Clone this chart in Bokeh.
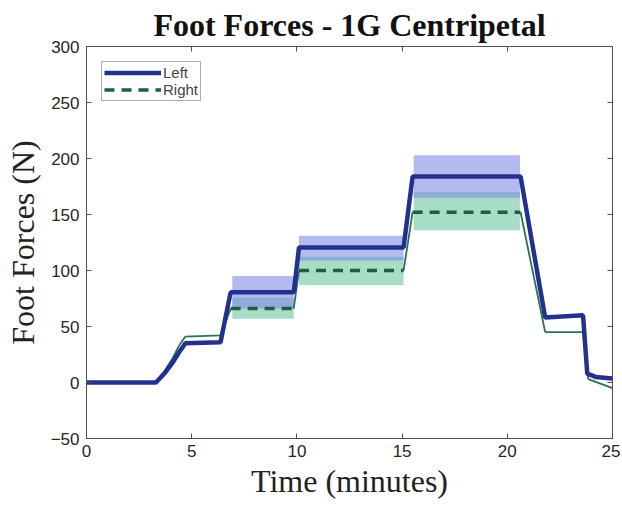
import numpy as np
from bokeh.plotting import figure
from bokeh.models import LinearAxis, Legend, LegendItem, Range1d, FixedTicker
from bokeh.embed import file_html
from bokeh.resources import INLINE

# ---- data ----
time_left = [0, 3.3, 3.7, 4.1, 4.4, 4.7, 6.37, 6.85, 9.85, 10.1, 15.07, 15.5, 20.63, 21.8, 23.6, 23.8, 24.2, 25]
left = [0, 0, 8, 18, 27, 35, 36, 80.5, 80.5, 120.5, 120.5, 184, 184, 58, 60, 8, 5, 3.5]

time_right = [0, 3.3, 3.7, 4.1, 4.4, 4.7, 6.37, 6.85, 9.85, 10.1, 15.07, 15.5, 20.63, 21.8, 23.6, 23.85, 25]
right = [0, 0, 10, 22, 33, 41, 42, 66, 66, 100, 100, 152, 152, 45, 45, 3, -5]
right_plateaus = [(7, 8), (9, 10), (11, 12)]  # index pairs drawn dashed

band_start = [6.93, 10.1, 15.55]
band_end = [9.85, 15.07, 20.6]
left_lo = [66, 109, 165]
left_hi = [95, 131, 203]
right_lo = [57, 87, 136]
right_hi = [76, 112, 170]

x_ticks = [0, 5, 10, 15, 20, 25]
y_ticks = [-50, 0, 50, 100, 150, 200, 250, 300]

AX = "#505050"

# ---- figure ----
p = figure(frame_width=526, frame_height=392, output_backend="svg", toolbar_location=None,
           x_range=Range1d(0, 25), y_range=Range1d(-50, 300),
           min_border_left=86, min_border_right=8, min_border_top=46, min_border_bottom=0,
           title="Foot Forces - 1G Centripetal")
p.title.align = "center"
p.title.vertical_align = "top"
p.title.text_font = "Liberation Serif"
p.title.text_font_size = "32px"
p.title.text_font_style = "bold"
p.title.text_color = "#111111"
p.title.standoff = 4
p.title.offset = 0
p.xgrid.visible = False
p.ygrid.visible = False
p.background_fill_color = "white"
p.border_fill_color = "white"
p.outline_line_color = AX

# bands
p.quad(left=band_start, right=band_end, bottom=right_lo, top=right_hi,
       fill_color="#6cc4a0", fill_alpha=0.6, line_alpha=0)
p.quad(left=band_start, right=band_end, bottom=left_lo, top=left_hi,
       fill_color="#7f8ce6", fill_alpha=0.6, line_alpha=0)

# right: solid thin transitions, dashed plateaus
solid_x, solid_y, dash_x, dash_y = [], [], [], []
plateau_idx = set(i for a, b in right_plateaus for i in range(a, b))
for i in range(len(time_right) - 1):
    xs = [time_right[i], time_right[i + 1], np.nan]
    ys = [right[i], right[i + 1], np.nan]
    if i in plateau_idx:
        dash_x += xs
        dash_y += ys
    else:
        solid_x += xs
        solid_y += ys

r_right_solid = p.line(solid_x, solid_y, line_color="#2a7350", line_width=1.8)
r_left = p.line(time_left, left, line_color="#24308f", line_width=4.5)
r_right = p.line(dash_x, dash_y, line_color="#1f5e3f", line_width=3.5, line_dash="10 7")

legend = Legend(items=[LegendItem(label="Left", renderers=[r_left]),
                       LegendItem(label="Right", renderers=[r_right])],
                location="top_left", margin=15, padding=2, spacing=0,
                glyph_width=57, glyph_height=13, label_standoff=2,
                label_text_font="Liberation Sans", label_text_font_size="15px",
                label_height=13, border_line_color="#5a5a70", border_line_width=1,
                background_fill_alpha=1)
p.add_layout(legend)

for ax in p.xaxis:
    ax.ticker = FixedTicker(ticks=x_ticks)
for ax in p.yaxis:
    ax.ticker = FixedTicker(ticks=y_ticks)

for ax in list(p.xaxis) + list(p.yaxis):
    ax.major_tick_in = 5
    ax.major_tick_out = 0
    ax.minor_tick_line_color = None
    ax.axis_line_color = AX
    ax.major_tick_line_color = AX
    ax.major_label_text_font = "Liberation Sans"
    ax.major_label_text_font_size = "17px"
    ax.major_label_text_color = "#262626"
    ax.axis_label_text_font = "Liberation Serif"
    ax.axis_label_text_font_size = "32px"
    ax.axis_label_text_font_style = "normal"
    ax.axis_label_text_color = "#222222"

p.xaxis.axis_label = "Time (minutes)"
p.yaxis.axis_label = "Foot Forces (N)"
p.xaxis.major_label_standoff = 6
p.xaxis.axis_label_standoff = 3
p.yaxis.major_label_standoff = 7
p.yaxis.axis_label_standoff = 7

top_ax = LinearAxis(ticker=FixedTicker(ticks=x_ticks), major_label_text_font_size="0px",
                    major_tick_in=5, major_tick_out=0, minor_tick_line_color=None,
                    axis_line_color=AX, major_tick_line_color=AX,
                    major_label_standoff=0)
right_ax = LinearAxis(ticker=FixedTicker(ticks=y_ticks), major_label_text_font_size="0px",
                      major_tick_in=5, major_tick_out=0, minor_tick_line_color=None,
                      axis_line_color=AX, major_tick_line_color=AX,
                      major_label_standoff=0)
p.add_layout(top_ax, "above")
p.add_layout(right_ax, "right")

open("out.html", "w").write(file_html(p, INLINE))
